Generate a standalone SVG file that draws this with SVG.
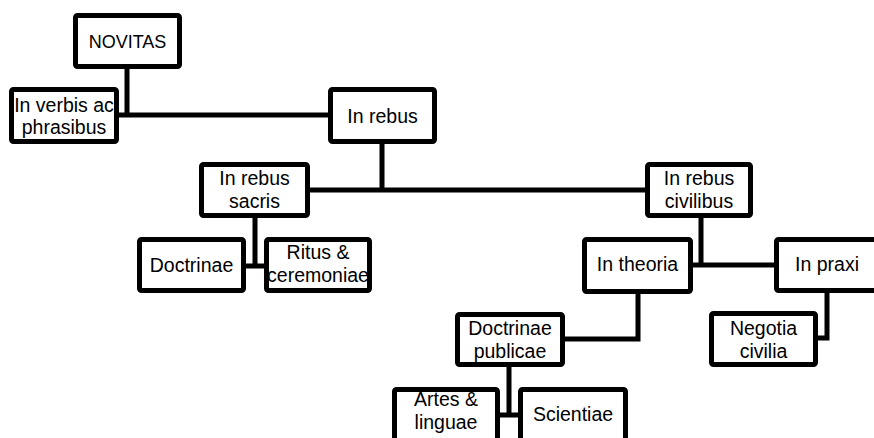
<svg xmlns="http://www.w3.org/2000/svg" width="874" height="438" viewBox="0 0 874 438">
<style>
.box{fill:#fff;stroke:#000;stroke-width:5;stroke-linejoin:round}
.t{font-family:"Liberation Sans",Arial,sans-serif;font-size:19.5px;fill:#000;text-anchor:middle}
.caps{font-size:18px}
.c{fill:none;stroke:#000;stroke-width:5}
</style>
<rect width="874" height="438" fill="#fff"/>
<g id="connectors">
<path class="c" d="M127,69 V115 M116,115 H331"/>
<path class="c" d="M382,144 V190 M308,190 H648"/>
<path class="c" d="M255,217 V266 M243,266 H267"/>
<path class="c" d="M701,218 V265 M690,265 H777"/>
<path class="c" d="M638,292 V339 H562"/>
<path class="c" d="M827,291 V338 H815"/>
<path class="c" d="M509,365 V415 M497,415 H521"/>
</g>
<g id="novitas"><rect class="box" x="75.5" y="15.5" width="104" height="51" rx="2"/><text class="t caps" x="127.5" y="48">NOVITAS</text></g>
<g id="verbis"><rect class="box" x="11.5" y="89.5" width="105" height="52" rx="2"/><text class="t" x="64" y="112">In verbis ac</text><text class="t" x="64" y="134">phrasibus</text></g>
<g id="rebus"><rect class="box" x="330.5" y="89.5" width="104" height="52" rx="2"/><text class="t" x="382.5" y="123">In rebus</text></g>
<g id="sacris"><rect class="box" x="201.5" y="164.5" width="106" height="51" rx="2"/><text class="t" x="254.5" y="185">In rebus</text><text class="t" x="254.5" y="208">sacris</text></g>
<g id="civilibus"><rect class="box" x="647.5" y="164.5" width="103" height="51" rx="2"/><text class="t" x="699" y="185">In rebus</text><text class="t" x="699" y="208">civilibus</text></g>
<g id="theoria"><rect class="box" x="584.5" y="239.5" width="106" height="52" rx="2"/><text class="t" x="637.5" y="271">In theoria</text></g>
<g id="praxi"><rect class="box" x="776.5" y="239.5" width="106" height="51" rx="2"/><text class="t" x="827" y="271">In praxi</text></g>
<g id="doctrinae"><rect class="box" x="139.5" y="239.5" width="104" height="51" rx="2"/><text class="t" x="191.5" y="272">Doctrinae</text></g>
<g id="ritus"><rect class="box" x="266.5" y="239.5" width="103" height="51" rx="2"/><text class="t" x="318" y="259">Ritus &amp;</text><text class="t" x="318" y="282">ceremoniae</text></g>
<g id="negotia"><rect class="box" x="711.5" y="313.5" width="104" height="51" rx="2"/><text class="t" x="763.5" y="335">Negotia</text><text class="t" x="763.5" y="358">civilia</text></g>
<g id="publicae"><rect class="box" x="457.5" y="314.5" width="105" height="50" rx="2"/><text class="t" x="510" y="335">Doctrinae</text><text class="t" x="510" y="358">publicae</text></g>
<g id="artes"><rect class="box" x="394.5" y="389.5" width="103" height="56" rx="2"/><text class="t" x="446" y="406">Artes &amp;</text><text class="t" x="446" y="429">linguae</text></g>
<g id="scientiae"><rect class="box" x="520.5" y="389.5" width="105" height="56" rx="2"/><text class="t" x="573" y="421">Scientiae</text></g>
</svg>
